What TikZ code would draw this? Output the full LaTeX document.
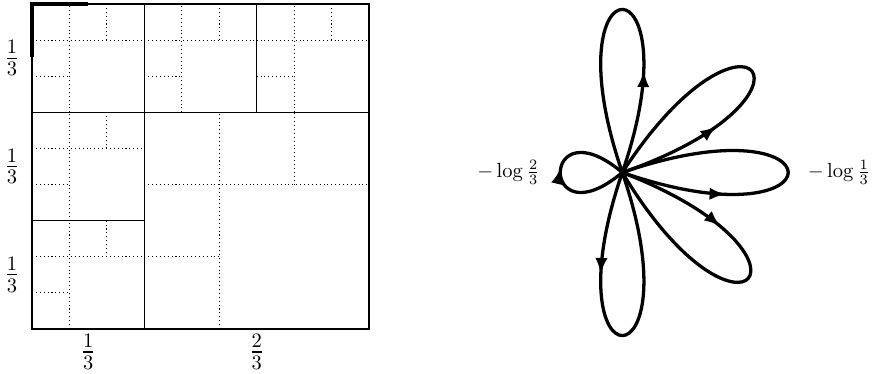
\documentclass[tikz,border=0pt]{standalone}
\usepackage{amsmath,amssymb}
\usepackage{tikz}
\usetikzlibrary{arrows.meta, decorations.markings, positioning}

% dotted split of one box: lower left corner, width, height
\newcommand{\subcells}[4]{%
  \draw[cell] ({#1+#3/3},{#2}) -- ({#1+#3/3},{#2+#4});
  \draw[cell] ({#1},{#2+2*#4/3}) -- ({#1+#3},{#2+2*#4/3});
  \draw[cell] ({#1+2*#3/3},{#2+2*#4/3}) -- ({#1+2*#3/3},{#2+#4});
  \draw[cell] ({#1},{#2+#4/3}) -- ({#1+#3/3},{#2+#4/3});
}

\begin{document}
\begin{tikzpicture}[x=0.4878pt, y=0.4878pt]
    \tikzstyle{frame} = [line width=1.4pt]
    \tikzstyle{wall} = [line width=0.7pt]
    \tikzstyle{cell} = [line width=0.5pt, dash pattern=on 0.5pt off 1.4pt]
    \tikzstyle{petal} = [line width=1.6pt, line join=round]
    \tikzstyle{third} = [font=\Large, inner sep=0pt]
    \useasboundingbox (0,0) rectangle (874,374);

    % the square, cut into thirds
    \begin{scope}[shift={(32,45)}]
        \def\wa{112.333}
        \def\ha{108.333}
        \foreach \x/\y/\w/\h in {0/2/1/1, 1/2/1/1, 2/2/1/1, 0/1/1/1, 0/0/1/1, 1/0/2/2}
            \subcells{\x*\wa}{\y*\ha}{\w*\wa}{\h*\ha};
        \draw[wall] ({\wa},0) -- ({\wa},{3*\ha});
        \draw[wall] ({2*\wa},{2*\ha}) -- ({2*\wa},{3*\ha});
        \draw[wall] (0,{2*\ha}) -- ({3*\wa},{2*\ha});
        \draw[wall] (0,{\ha}) -- ({\wa},{\ha});
        \draw[frame] (0,0) rectangle (337,325);
        \draw[line width=1.6pt] (0,272) -- (0,325) -- (56,325);

        \foreach \k in {0,1,2}
            \node[third] (side\k) at (-20,{(\k+0.5)*\ha}) {$\frac{1}{3}$};
        \node[third] (low) at ({0.5*\wa},-23) {$\frac{1}{3}$};
        \node[third] (high) at ({2*\wa},-23) {$\frac{2}{3}$};
    \end{scope}

    % the loops
    \coordinate (o) at (622.3,201.5);
    \foreach \dir/\spread/\dist/\where in {90/-19/230/0.3, 38/-19/232/0.3, 0/-19/234/0.3,
                                           -40/19/232/0.32, -90/-19/230/0.3, 180/40/108/0.53}
        \draw[petal, postaction={decorate, decoration={markings,
                mark=at position \where with {\arrow{Latex[length=8pt,width=6pt]}}}}]
            (o) .. controls +({\dir+\spread}:\dist) and +({\dir-\spread}:\dist) .. (o);
    \path (o) ++(180:62) coordinate (tipL);
    \path (o) ++(0:166) coordinate (tipR);
    \node[left=6.5pt of tipL] (shortlab) {$-\log\frac{2}{3}$};
    \node[right=6pt of tipR] (longlab) {$-\log\frac{1}{3}$};
\end{tikzpicture}
\end{document}
